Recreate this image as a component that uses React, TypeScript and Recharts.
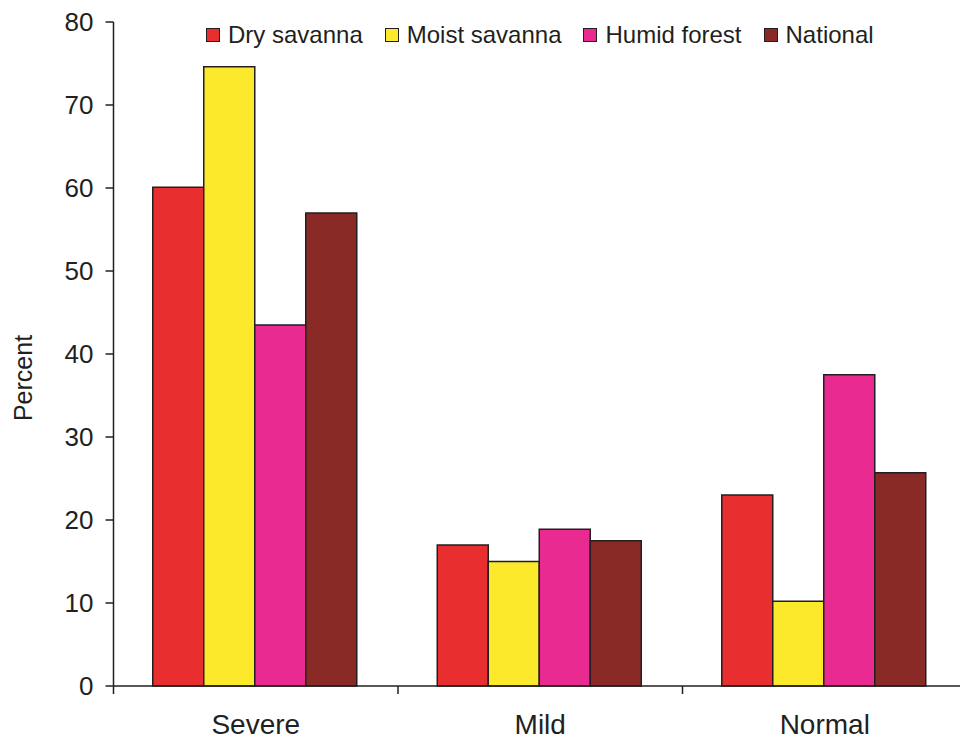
import React from 'react'
import { BarChart, Bar, XAxis, YAxis, Legend } from 'recharts'

const categories = ['Severe', 'Mild', 'Normal']
const drySavanna = [60.1, 17.0, 23.0]
const moistSavanna = [74.6, 15.0, 10.2]
const humidForest = [43.5, 18.9, 37.5]
const national = [57.0, 17.5, 25.7]
const yTicks = [0, 10, 20, 30, 40, 50, 60, 70, 80]

const series = [
  { key: 'dry', name: 'Dry savanna', color: '#E92E2F', values: drySavanna },
  { key: 'moist', name: 'Moist savanna', color: '#FCE92B', values: moistSavanna },
  { key: 'humid', name: 'Humid forest', color: '#E92A91', values: humidForest },
  { key: 'national', name: 'National', color: '#8A2A26', values: national },
]

const data = categories.map((name, i) => {
  const row: Record<string, string | number> = { name }
  series.forEach((s) => {
    row[s.key] = s.values[i]
  })
  return row
})

const ink = '#231F20'
const font = '"Liberation Sans", Arial, sans-serif'
const labelGap = 28

function TopLegend() {
  return (
    <div style={{ display: 'flex', alignItems: 'center', fontFamily: font, fontSize: 24, color: ink, lineHeight: '26px' }}>
      {series.map((s) => (
        <div key={s.key} style={{ display: 'flex', alignItems: 'center', marginRight: 22 }}>
          <span
            style={{
              display: 'inline-block',
              width: 12,
              height: 12,
              background: s.color,
              border: `1.5px solid ${ink}`,
              marginRight: 8,
            }}
          />
          <span>{s.name}</span>
        </div>
      ))}
    </div>
  )
}

function PercentLabel(props: any) {
  const { viewBox } = props
  const x = viewBox.x + 23
  const y = viewBox.y + viewBox.height / 2 + 24
  return (
    <text
      x={x}
      y={y}
      transform={`rotate(-90, ${x}, ${y})`}
      textAnchor="middle"
      dominantBaseline="central"
      fill={ink}
      fontSize={25}
      fontFamily={font}
    >
      Percent
    </text>
  )
}

// category label plus tick marks on the band edges (not the band centre)
function CategoryTick(props: any) {
  const { x, y, payload, index } = props
  const half = payload.offset || 0
  const axisY = y - labelGap
  const edges = [x - half]
  if (index === categories.length - 1) edges.push(x + half)
  return (
    <g>
      {edges.map((ex) => (
        <line key={ex} x1={ex} x2={ex} y1={axisY} y2={axisY + 8} stroke={ink} strokeWidth={1.5} />
      ))}
      <text x={x} y={y} dy="0.71em" textAnchor="middle" fill={ink} fontSize={28} fontFamily={font}>
        {payload.value}
      </text>
    </g>
  )
}

export default function App() {
  return (
    <div style={{ position: 'absolute', left: 0, top: 0, width: 960, height: 742, overflow: 'hidden', background: '#fff' }}>
      <BarChart
        width={967}
        height={742}
        data={data}
        margin={{ top: 22, right: 0, bottom: 0, left: 0 }}
        barCategoryGap="13.8%"
        barGap={0}
      >
        <XAxis
          dataKey="name"
          height={56}
          tickLine={false}
          tickSize={0}
          tickMargin={labelGap}
          axisLine={{ stroke: ink, strokeWidth: 1.5 }}
          tick={<CategoryTick />}
        />
        <YAxis
          domain={[0, 80]}
          ticks={yTicks}
          width={113.5}
          tickSize={8}
          tickMargin={12}
          axisLine={{ stroke: ink, strokeWidth: 1.5 }}
          tickLine={{ stroke: ink, strokeWidth: 1.5 }}
          tick={{ fill: ink, fontSize: 26, fontFamily: font }}
          label={<PercentLabel />}
        />
        <Legend
          layout="vertical"
          verticalAlign="middle"
          align="center"
          content={() => <TopLegend />}
          wrapperStyle={{ top: 22, left: 206, width: 760 }}
        />
        {series.map((s) => (
          <Bar
            key={s.key}
            dataKey={s.key}
            name={s.name}
            fill={s.color}
            stroke={ink}
            strokeWidth={1.5}
            isAnimationActive={false}
          />
        ))}
      </BarChart>
    </div>
  )
}
